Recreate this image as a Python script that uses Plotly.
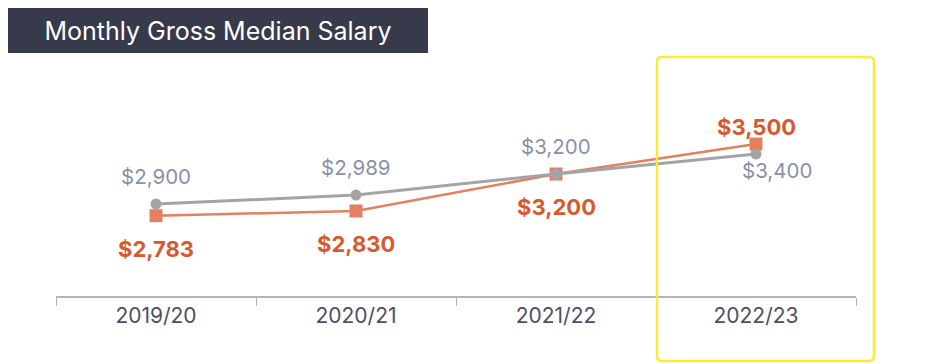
import plotly.graph_objects as go

years = ["2019/20", "2020/21", "2021/22", "2022/23"]
all_grads = [2900, 2989, 3200, 3400]
program = [2783, 2830, 3200, 3500]
gray_pos = ["above", "above", "above", "below"]
orange_pos = ["below", "below", "below", "above"]
gray_xshift = [0, 0, 0, 21]

OFF = 8  # default page body margin
W, H = 934 - OFF, 364 - OFF
L, R, T, B = 48, 78, 52, 68
PW, PH = W - L - R, H - T - B

def px(x):
    return (x - OFF - L) / PW

def py(y):
    return 1 - (y - OFF - T) / PH

GRAY = "#a4a4a4"
ORANGE = "#e2805f"
GRAY_TXT = "#8a90a8"
ORANGE_TXT = "#d9592e"
FONT = "Inter, Lato, sans-serif"

fig = go.Figure()
fig.add_trace(go.Scatter(x=years, y=program, mode="lines+markers",
                         line=dict(color=ORANGE, width=2.5),
                         marker=dict(symbol="square", size=13, color=ORANGE),
                         hoverinfo="skip"))
fig.add_trace(go.Scatter(x=years, y=all_grads, mode="lines+markers",
                         line=dict(color=GRAY, width=3),
                         marker=dict(symbol="circle", size=11, color=GRAY),
                         hoverinfo="skip"))

ann = []
for x, v, p, xs in zip(years, all_grads, gray_pos, gray_xshift):
    ann.append(dict(x=x, y=v, xref="x", yref="y", text=f"${v:,}", showarrow=False,
                    yshift=28 if p == "above" else -16, xshift=xs,
                    font=dict(family=FONT, size=20.5, color=GRAY_TXT)))
for x, v, p in zip(years, program, orange_pos):
    ann.append(dict(x=x, y=v, xref="x", yref="y", text=f"<b>${v:,}</b>", showarrow=False,
                    yshift=-33 if p == "below" else 17,
                    font=dict(family=FONT, size=22, color=ORANGE_TXT)))

# title box
ann.append(dict(xref="paper", yref="paper", x=px(8), y=py(8), xanchor="left", yanchor="top",
                width=420, height=45, bgcolor="#363a4a", borderpad=0, borderwidth=0,
                align="center", valign="middle", showarrow=False,
                text="Monthly Gross Median Salary",
                font=dict(family=FONT, size=25, color="white")))

# rounded yellow highlight box
x0, x1, y0, y1 = px(657), px(874), py(361), py(57)
rx, ry = 5 / PW, 5 / PH
path = (f"M {x0+rx},{y1} L {x1-rx},{y1} Q {x1},{y1} {x1},{y1-ry} "
        f"L {x1},{y0+ry} Q {x1},{y0} {x1-rx},{y0} L {x0+rx},{y0} Q {x0},{y0} {x0},{y0+ry} "
        f"L {x0},{y1-ry} Q {x0},{y1} {x0+rx},{y1} Z")
shapes = [
    dict(type="path", xref="paper", yref="paper", path=path,
         line=dict(color="#fde93a", width=2.5)),
]

fig.update_layout(
    width=W, height=H, margin=dict(l=L, r=R, t=T, b=B),
    paper_bgcolor="white", plot_bgcolor="white", showlegend=False,
    annotations=ann, shapes=shapes,
    xaxis=dict(type="category", range=[-0.5, 3.5], showline=True, linecolor="#b5b5b5", linewidth=1.5,
               ticks="outside", tickson="boundaries", ticklen=8, tickcolor="#b5b5b5",
               showgrid=False, zeroline=False,
               tickfont=dict(family=FONT, size=21, color="#4b5065")),
    yaxis=dict(range=[1980, 4340], visible=False, showgrid=False, zeroline=False),
)

fig.write_html("out.html")
